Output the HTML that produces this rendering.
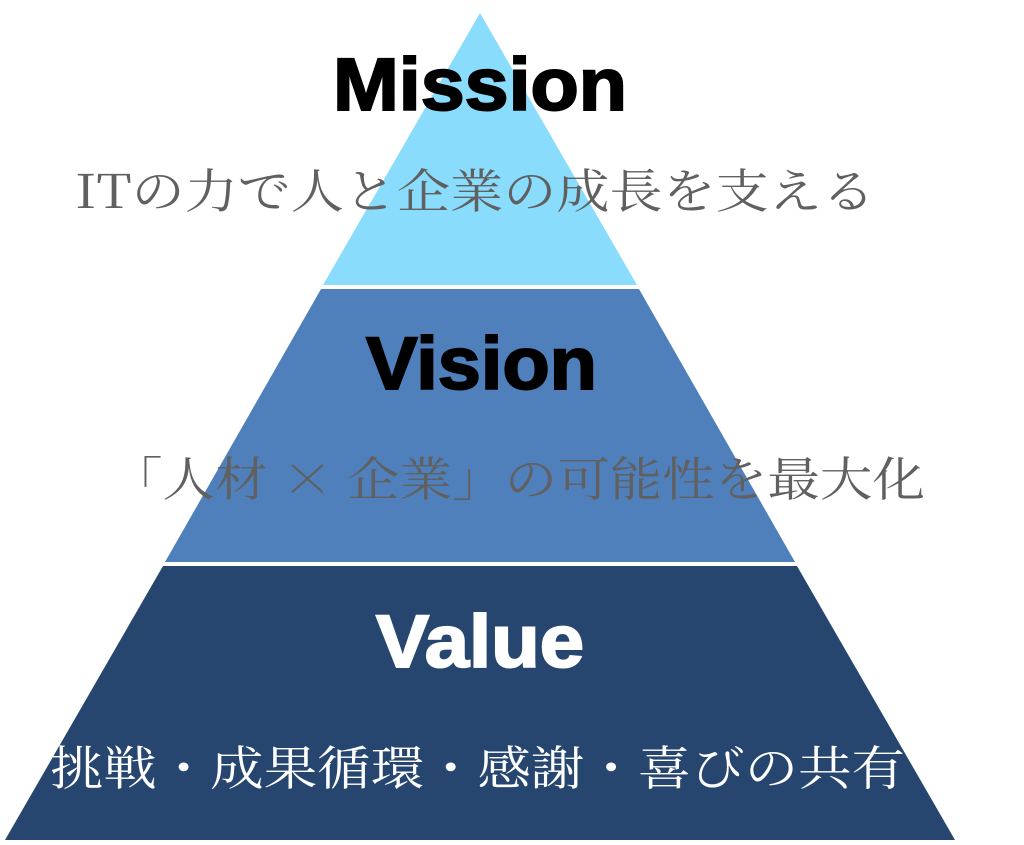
<!DOCTYPE html>
<html><head><meta charset="utf-8"><style>
html,body{margin:0;padding:0;background:#fff;width:1024px;height:845px;overflow:hidden}
</style></head><body>
<svg width="1024" height="845" viewBox="0 0 1024 845" xmlns="http://www.w3.org/2000/svg">
<polygon points="480,13 637,285 323,285" fill="#8adcfd"/>
<polygon points="321,289 639,289 795,562 165,562" fill="#4f80bc"/>
<polygon points="163,566 797,566 955,840 5,840" fill="#27466f"/>
<g font-family="'Liberation Sans',sans-serif" font-weight="bold" font-size="74" text-anchor="start">
<text x="333" y="110" textLength="294" lengthAdjust="spacingAndGlyphs" fill="#000" stroke="#000" stroke-width="2">Mission</text>
<text x="366" y="389" textLength="231" lengthAdjust="spacingAndGlyphs" fill="#000" stroke="#000" stroke-width="2">Vision</text>
<text x="376" y="667" textLength="208" lengthAdjust="spacingAndGlyphs" fill="#fff" stroke="#fff" stroke-width="2">Value</text>
</g>
<g font-family="'Noto Serif CJK SC','Liberation Serif',serif" font-size="47" font-weight="normal">
<text x="75" y="208" textLength="800" lengthAdjust="spacingAndGlyphs" fill="#606060">ITの力で人と企業の成長を支える</text>
<text x="110" y="496" textLength="815" lengthAdjust="spacingAndGlyphs" fill="#606060">「人材 × 企業」の可能性を最大化</text>
<text x="50" y="785" textLength="855" lengthAdjust="spacingAndGlyphs" fill="#fff">挑戦・成果循環・感謝・喜びの共有</text>
</g>
</svg>
</body></html>
